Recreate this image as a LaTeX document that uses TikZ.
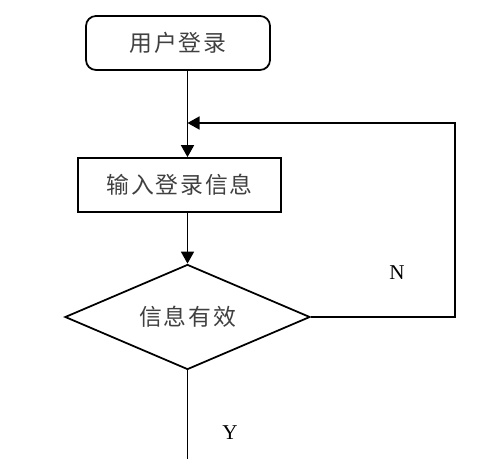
\documentclass[tikz,border=0pt]{standalone}
\usepackage{fontspec}
\setmainfont{Liberation Serif}
\newfontfamily\cjk[LetterSpace=8]{Noto Sans CJK SC}
\usetikzlibrary{shapes.geometric,arrows.meta}
\definecolor{txt}{rgb}{0.25, 0.25, 0.25}
\tikzstyle{startbox}=[draw, rounded corners=0.2cm, line width=1pt, minimum width=3.68cm, minimum height=1.08cm, inner sep=0pt, text=txt, font=\cjk\fontsize{13}{15}\selectfont]
\tikzstyle{procbox}=[draw, line width=1pt, minimum width=4.06cm, minimum height=1.08cm, inner sep=0pt, text=txt, font=\cjk\fontsize{13}{15}\selectfont]
\tikzstyle{testbox}=[draw, diamond, aspect=2.33, line width=1pt, minimum width=4.9cm, minimum height=2.1cm, inner sep=0pt, text=txt, font=\cjk\fontsize{13}{15}\selectfont]
\tikzstyle{yn}=[inner sep=0pt, font=\fontsize{12}{14}\selectfont]
\tikzstyle{flow}=[line width=1pt, -{Triangle[length=0.24cm,width=0.26cm]}]
\tikzstyle{plain}=[line width=1pt]

\begin{document}
\begin{tikzpicture}[scale=1]
\useasboundingbox (0,0) rectangle (10,9.18);

\node[startbox] (a) at (3.56, 8.32) {用户登录};
\node[procbox] (b) at (3.595, 5.48) {输入登录信息};
\node[testbox] (c) at (3.75, 2.84) {信息有效};

\coordinate (m) at (3.75, 6.72);
\coordinate (r) at (9.1, 2.84);
\coordinate (e) at (3.75, 0);

\node[yn] (n) at (7.94, 3.72) {N};
\node[yn] (y) at (4.6, 0.52) {Y};

\draw[flow] (a.south -| c) -- (b.north -| c);
\draw[flow] (b.south -| c) -- (c.north);
\draw[flow] (c.east) -- (r) |- (m);
\draw[plain] (c.south) -- (e);

\end{tikzpicture}
\end{document}
